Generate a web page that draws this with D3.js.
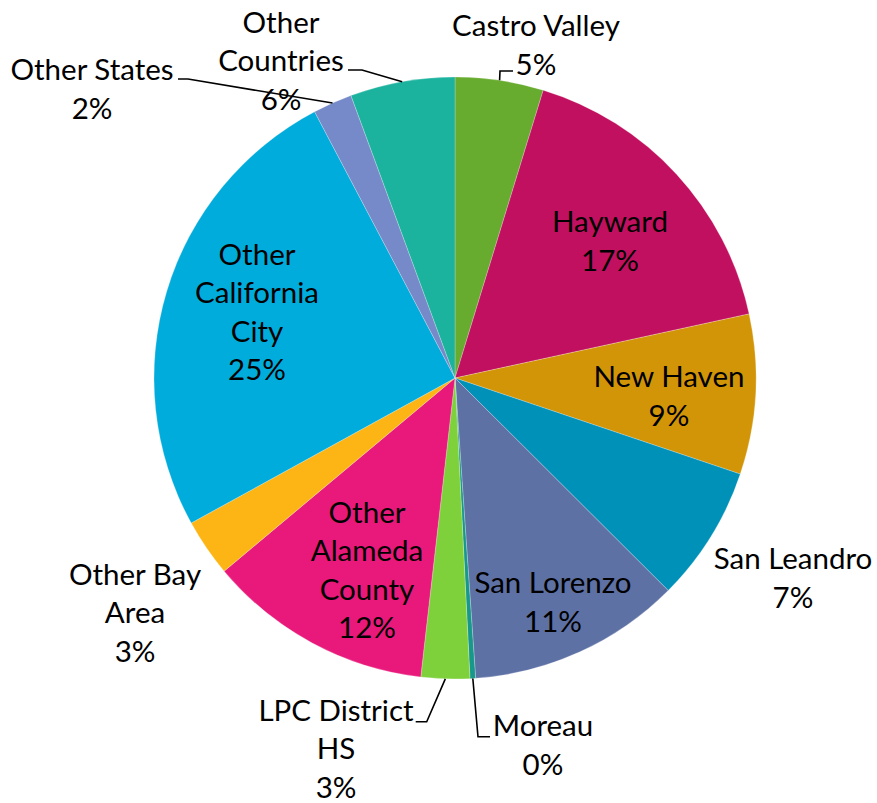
<!DOCTYPE html>
<html lang="en">
<head>
  <meta charset="utf-8">
  <title>Student origin pie</title>
  <script src="https://d3js.org/d3.v7.min.js"></script>
  <style>
    body { margin: 0; background: #fff; }
    text { font-family: Lato, "Open Sans", sans-serif; fill: #000; }
  </style>
</head>
<body>
<svg width="877" height="803"></svg>
<script>
  // data, clockwise from 12 o'clock
  var categories = ["Castro Valley", "Hayward", "New Haven", "San Leandro", "San Lorenzo", "Moreau",
    "LPC District HS", "Other Alameda County", "Other Bay Area", "Other California City",
    "Other States", "Other Countries"];
  var shares = [4.72, 16.8, 8.56, 7.28, 11.4, 0.3, 2.6, 12.06, 3.08, 25.2, 2.1, 5.6];
  var colors = ["#67ab2f", "#c1105f", "#d39508", "#0091b9", "#5e71a5", "#17988a",
    "#7ed13a", "#e8197b", "#fdb515", "#00acdc", "#7689c8", "#1bb29e"];

  // how the label text wraps in the original
  var labelLines = [["Castro Valley"], ["Hayward"], ["New Haven"], ["San Leandro"], ["San Lorenzo"], ["Moreau"],
    ["LPC District", "HS"], ["Other", "Alameda", "County"], ["Other Bay", "Area"], ["Other", "California", "City"],
    ["Other States"], ["Other", "Countries"]];

  var svg = d3.select("svg"),
    cx = 455, cy = 378,
    radius = 301,
    fontSize = 29.5,
    lineH = 38.5;

  // label block centres, relative to the pie centre
  var labelPos = [[81, -333], [155, -137], [214, 18], [338, 200], [98, 224], [88, 367],
    [-119, 371], [-88, 192], [-320, 235], [-198, -66], [-363, -289], [-174, -317]];

  // leader lines: elbow then end point (relative to centre), null when label sits inside
  var leaders = [[[45, -307], [58, -307]], null, null, null, null, [[23, 358.7], [35, 358.7]],
    [[-28.3, 343.7], [-39.3, 343.7]], null, null, null, [[-267, -299], [-277, -299]], [[-93, -308], [-107, -308]]];

  var total = d3.sum(shares);
  var data = categories.map((c, i) => ({ name: c, value: shares[i], i: i }));

  var pie = d3.pie().sort(null).value(d => d.value);
  var arc = d3.arc().innerRadius(0).outerRadius(radius);
  var edge = d3.arc().innerRadius(radius).outerRadius(radius);

  var g = svg.append("g").attr("transform", `translate(${cx},${cy})`);
  var arcs = pie(data);

  g.selectAll("path.slice")
    .data(arcs)
    .join("path")
    .attr("class", "slice")
    .attr("d", arc)
    .attr("fill", d => colors[d.data.i])
    .attr("stroke", "#fff")
    .attr("stroke-width", 0.4)
    .attr("stroke-opacity", 0.6);

  // leader lines
  g.selectAll("path.leader")
    .data(arcs.filter(d => leaders[d.data.i]))
    .join("path")
    .attr("class", "leader")
    .attr("fill", "none")
    .attr("stroke", "#000")
    .attr("stroke-width", 1.6)
    .attr("d", d => {
      let p = edge.centroid(d);
      let l = leaders[d.data.i];
      return d3.line()([p, l[0], l[1]]);
    });

  // labels
  var labels = g.selectAll("text.lbl")
    .data(arcs)
    .join("text")
    .attr("class", "lbl")
    .attr("text-anchor", "middle")
    .style("font-size", fontSize + "px");

  labels.each(function(d) {
    let t = d3.select(this);
    let lines = labelLines[d.data.i].concat([Math.round(d.data.value / total * 100) + "%"]);
    let pos = labelPos[d.data.i];
    let top = pos[1] - (lines.length - 1) * lineH / 2;
    lines.forEach((s, k) => {
      t.append("tspan")
        .attr("x", pos[0])
        .attr("y", top + k * lineH)
        .attr("dy", "0.35em")
        .text(s);
    });
  });
</script>
</body>
</html>
